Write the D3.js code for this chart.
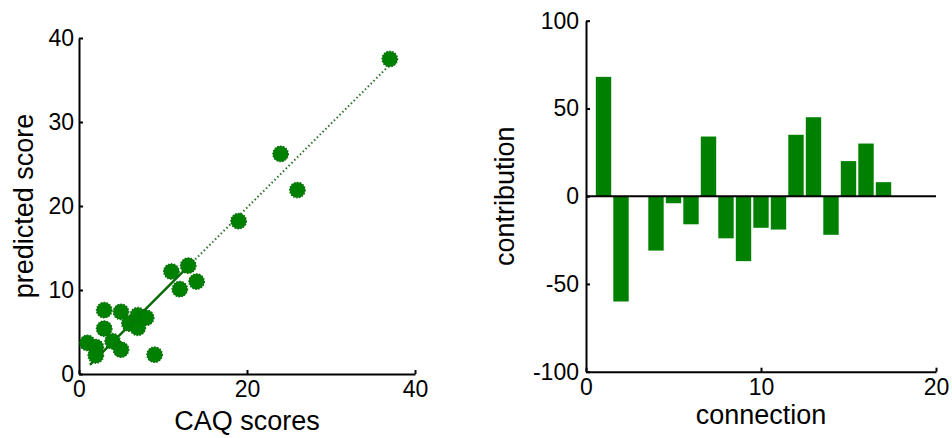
<!DOCTYPE html>
<html>
<head>
<meta charset="utf-8">
<script src="https://cdn.jsdelivr.net/npm/d3@7"></script>
<style>
  html, body { margin: 0; padding: 0; background: #fff; }
  svg { display: block; }
  text { font-family: "Liberation Sans", Arial, Helvetica, sans-serif; fill: #000; }
</style>
</head>
<body>
<svg id="chart" width="952" height="438"></svg>
<script>
// Left panel: observed CAQ scores vs. predicted scores
const caqScores =       [37,   24,   26,   19,   11,   13,   12,   14,  3,   5,   3,   6,   7,   8,   7,   4,   5,   1,   2,   2,   9];
const predictedScores = [37.5, 26.2, 21.9, 18.2, 12.2, 12.9, 10.1, 11, 7.6, 7.4, 5.4, 6.0, 7.0, 6.7, 5.5, 3.9, 2.9, 3.7, 3.2, 2.2, 2.3];
// Fitted line (slope, intercept) and its x extent; solid part ends at fitSolidEnd
const fitSlope = 1.0;
const fitIntercept = -0.2;
const fitRange = [1.3, 37];
const fitSolidEnd = 12.5;
const scatterXTicks = [0, 20, 40];
const scatterYTicks = [0, 10, 20, 30, 40];

// Right panel: contribution of each connection
const connections =   [1,  2,   3, 4,   5,  6,   7,  8,   9,   10,  11,  12, 13, 14,  15, 16, 17];
const contributions = [68, -60, 0, -31, -4, -16, 34, -24, -37, -18, -19, 35, 45, -22, 20, 30, 8];
const xTicksBars = [0, 10, 20];
const yTicksBars = [-100, -50, 0, 50, 100];

const green = "#008000";
const svg = d3.select("#chart");
const plain = d => String(d);

function styleAxis(g) {
  g.selectAll("path.domain").attr("stroke", "#000").attr("stroke-width", 2);
  g.selectAll(".tick line").attr("stroke", "#000").attr("stroke-width", 2);
  g.selectAll(".tick text").style("font-size", "23px").attr("fill", "#000");
}

// ---------- Scatter panel ----------
const xs = d3.scaleLinear().domain([0, 40]).range([79, 415]);
const ys = d3.scaleLinear().domain([0, 40]).range([374, 38]);

const left = svg.append("g");

left.append("g")
  .attr("transform", `translate(0,${ys(0)})`)
  .call(d3.axisBottom(xs).tickValues(scatterXTicks).tickFormat(plain)
        .tickSizeInner(-4).tickSizeOuter(0).tickPadding(7))
  .call(styleAxis);

left.append("g")
  .attr("transform", `translate(${xs(0)},0)`)
  .call(d3.axisLeft(ys).tickValues(scatterYTicks).tickFormat(plain)
        .tickSizeInner(-4).tickSizeOuter(0).tickPadding(5))
  .call(styleAxis);

const fitY = x => fitSlope * x + fitIntercept;
// solid segment
left.append("line")
  .attr("x1", xs(fitRange[0])).attr("y1", ys(fitY(fitRange[0])))
  .attr("x2", xs(fitSolidEnd)).attr("y2", ys(fitY(fitSolidEnd)))
  .attr("stroke", "#0a6a0a").attr("stroke-width", 2.5);
// dotted continuation
left.append("line")
  .attr("x1", xs(fitSolidEnd)).attr("y1", ys(fitY(fitSolidEnd)))
  .attr("x2", xs(fitRange[1])).attr("y2", ys(fitY(fitRange[1])))
  .attr("stroke", "#2f6f2f").attr("stroke-width", 2)
  .attr("stroke-dasharray", "1.5 2.5");

left.append("g").selectAll("circle")
  .data(caqScores.map((c, i) => ({ x: c, y: predictedScores[i] })))
  .join("circle")
  .attr("cx", d => xs(d.x))
  .attr("cy", d => ys(d.y))
  .attr("r", 7.8)
  .attr("fill", green)
  .attr("stroke", "#106a10")
  .attr("stroke-width", 1.2)
  .attr("stroke-dasharray", "1.5 1.5");

left.append("text")
  .attr("x", (xs(0) + xs(40)) / 2)
  .attr("y", 430)
  .attr("text-anchor", "middle")
  .style("font-size", "27px")
  .text("CAQ scores");

left.append("text")
  .attr("transform", `translate(33,${(ys(0) + ys(40)) / 2}) rotate(-90)`)
  .attr("text-anchor", "middle")
  .style("font-size", "27px")
  .text("predicted score");

// ---------- Bar panel ----------
const xb = d3.scaleLinear().domain([0, 20]).range([586, 936]);
const yb = d3.scaleLinear().domain([-100, 100]).range([371.7, 20.7]);
const barWidth = 0.88;

const right = svg.append("g");

right.append("g")
  .attr("transform", `translate(0,${yb(-100)})`)
  .call(d3.axisBottom(xb).tickValues(xTicksBars).tickFormat(plain)
        .tickSizeInner(-4).tickSizeOuter(0).tickPadding(7))
  .call(styleAxis);

right.append("g")
  .attr("transform", `translate(${xb(0)},0)`)
  .call(d3.axisLeft(yb).tickValues(yTicksBars).tickFormat(plain)
        .tickSizeInner(-4).tickSizeOuter(0).tickPadding(7))
  .call(styleAxis);

right.append("g").selectAll("rect")
  .data(connections.map((c, i) => ({ c, v: contributions[i] })).filter(d => d.v !== 0))
  .join("rect")
  .attr("x", d => xb(d.c - barWidth / 2))
  .attr("width", d => xb(d.c + barWidth / 2) - xb(d.c - barWidth / 2))
  .attr("y", d => yb(Math.max(0, d.v)))
  .attr("height", d => Math.abs(yb(d.v) - yb(0)))
  .attr("fill", green);

// baseline at zero
right.append("line")
  .attr("x1", xb(0)).attr("x2", xb(20))
  .attr("y1", yb(0)).attr("y2", yb(0))
  .attr("stroke", "#000").attr("stroke-width", 2);

right.append("text")
  .attr("x", (xb(0) + xb(20)) / 2)
  .attr("y", 424)
  .attr("text-anchor", "middle")
  .style("font-size", "27px")
  .text("connection");

right.append("text")
  .attr("transform", `translate(514,${(yb(-100) + yb(100)) / 2}) rotate(-90)`)
  .attr("text-anchor", "middle")
  .style("font-size", "27px")
  .text("contribution");
</script>
</body>
</html>
